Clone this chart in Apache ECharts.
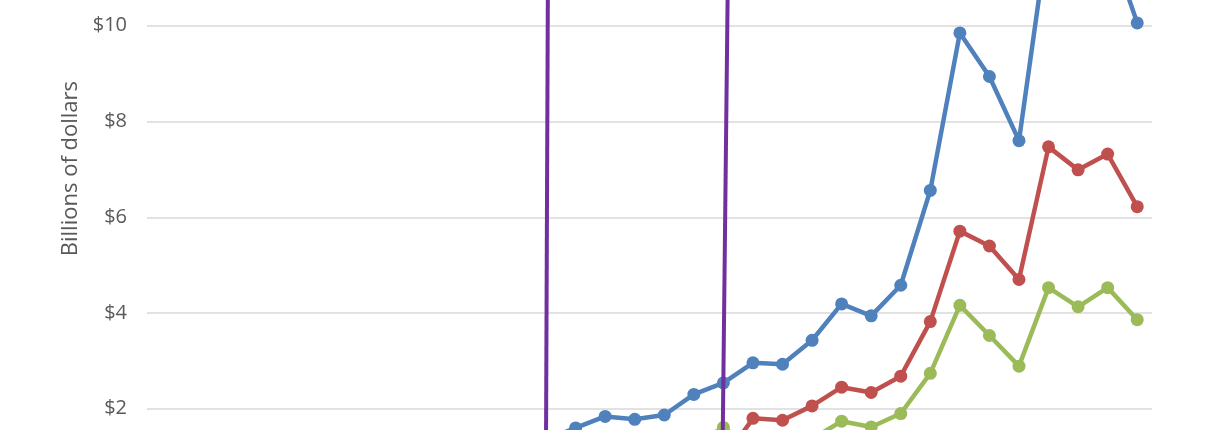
<!DOCTYPE html>
<html>
<head>
<meta charset="utf-8">
<script src="https://cdn.jsdelivr.net/npm/echarts@6/dist/echarts.min.js"></script>
<style>
html,body{margin:0;padding:0;background:#fff;overflow:hidden;width:1224px;height:430px;}
#wrap{position:relative;width:1224px;height:430px;overflow:hidden;}
#chart{position:absolute;left:0;top:-100px;width:1224px;height:630px;}
</style>
</head>
<body>
<div id="wrap"><div id="chart"></div></div>
<script>
// Years (categories); x-axis labels fall outside the visible crop
var years = [1980,1981,1982,1983,1984,1985,1986,1987,1988,1989,1990,1991,1992,1993,1994,1995,1996,1997,1998,1999,2000,2001,2002,2003,2004,2005,2006,2007,2008,2009,2010,2011,2012,2013];
// Billions of dollars
var totalValues = [0.30,0.34,0.38,0.44,0.50,0.56,0.62,0.70,0.80,0.90,1.00,1.10,1.22,1.35,1.60,1.84,1.78,1.87,2.30,2.54,2.96,2.93,3.43,4.19,3.94,4.58,6.56,9.85,8.94,7.60,12.00,11.12,11.85,10.06];
var redValues   = [0.18,0.20,0.22,0.25,0.28,0.31,0.34,0.38,0.43,0.48,0.52,0.57,0.63,0.70,0.82,0.95,0.92,0.96,1.05,0.93,1.80,1.76,2.06,2.45,2.34,2.68,3.82,5.71,5.40,4.70,7.47,6.99,7.32,6.22];
var greenValues = [0.12,0.14,0.16,0.19,0.22,0.25,0.28,0.32,0.37,0.42,0.48,0.53,0.59,0.65,0.78,0.89,0.86,0.91,1.25,1.61,1.16,1.17,1.37,1.74,1.62,1.90,2.74,4.16,3.53,2.89,4.53,4.13,4.53,3.86];
var yTicks = [0,2,4,6,8,10,12];
// Vertical marker lines (data space: [year, value] endpoints)
var markerLines = [
  [[1992.997, 1.0], [1993.063, 11.0]],
  [[1998.97, 1.0], [1999.15, 11.0]]
];

function pairs(vals){ return years.map(function(y,i){ return [y, vals[i]]; }); }

var chart = echarts.init(document.getElementById('chart'), null, {renderer:'canvas'});
function lineSeries(name, color, vals, extra){
  var s = {
    name: name, type: 'line', data: pairs(vals),
    symbol: 'circle', symbolSize: 13, showSymbol: true,
    lineStyle: {color: color, width: 4.5},
    itemStyle: {color: color, borderWidth: 0},
    clip: false, animation: false, silent: true
  };
  if (extra) for (var k in extra) s[k] = extra[k];
  return s;
}
chart.setOption({
  animation: false,
  grid: {left: 147, right: 72, top: 30, bottom: 25.5, containLabel: false},
  xAxis: {
    type: 'value', min: years[0]-0.5, max: years[years.length-1]+0.5,
    axisLine: {show: false}, axisTick: {show: false}, splitLine: {show: false},
    axisLabel: {show: false}
  },
  yAxis: {
    type: 'value', min: yTicks[0], max: yTicks[yTicks.length-1], interval: 2,
    axisLine: {show: false}, axisTick: {show: false},
    splitLine: {lineStyle: {color: '#d9d9d9', width: 1.5}},
    axisLabel: {
      formatter: function(v){ return '$' + v; },
      color: '#595959', fontFamily: 'Open Sans', fontSize: 20, margin: 20
    }
  },
  graphic: [{
    type: 'text', left: 60, top: 181, rotation: Math.PI/2,
    style: {text: 'Billions of dollars', fill: '#595959', font: '22px "Open Sans"'}
  }],
  series: [
    lineSeries('Total', '#4F81BD', totalValues, {
      markLine: {
        silent: true, symbol: ['none','none'], animation: false,
        label: {show: false},
        lineStyle: {color: '#7030A0', width: 4, type: 'solid'},
        data: markerLines.map(function(l){ return [{coord: l[0]}, {coord: l[1]}]; })
      }
    }),
    lineSeries('Red', '#C0504D', redValues),
    lineSeries('Green', '#9BBB59', greenValues)
  ]
});
</script>
</body>
</html>
